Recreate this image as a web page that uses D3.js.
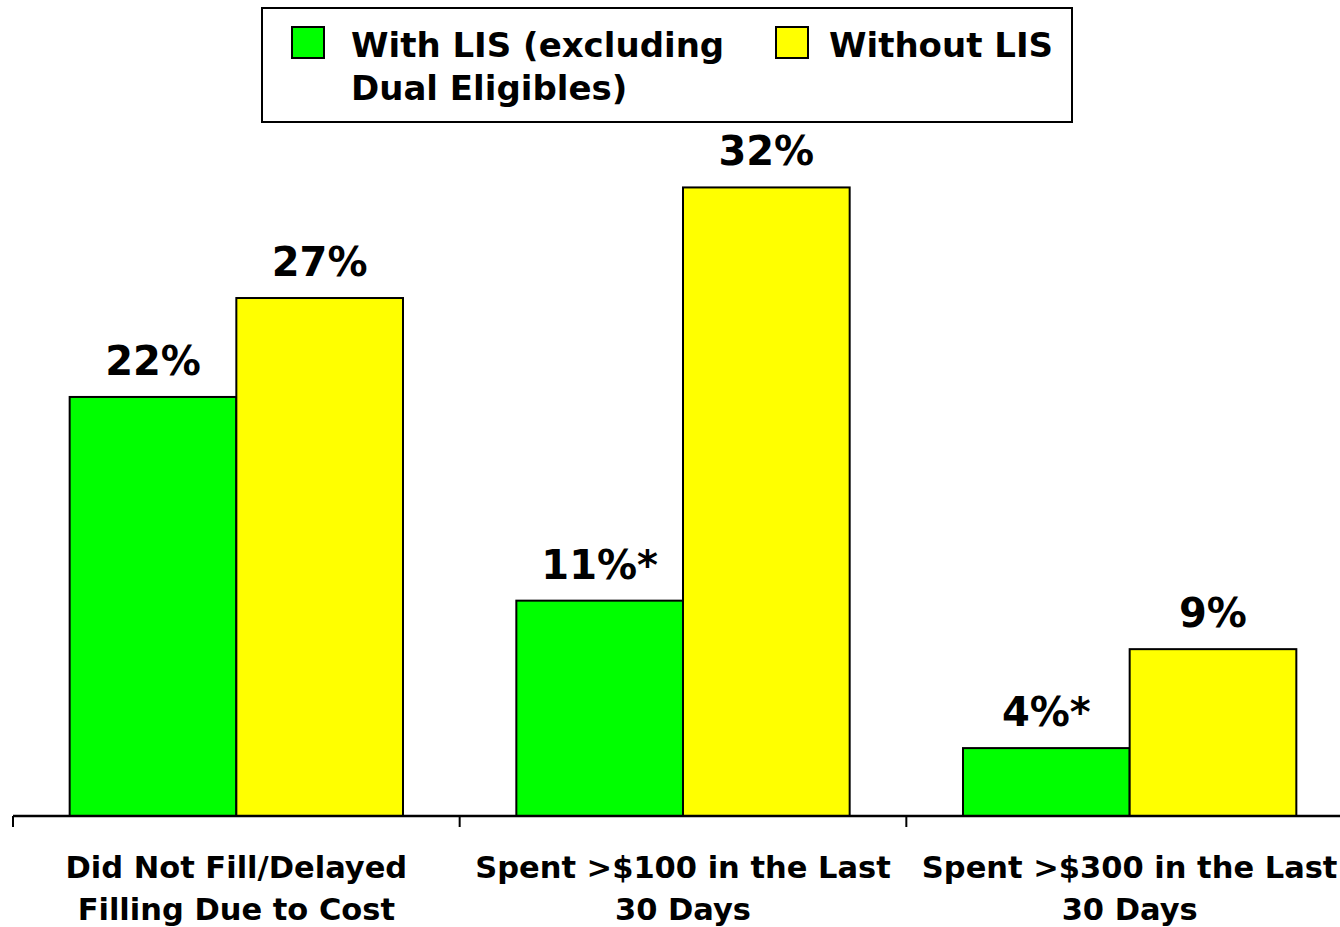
<!DOCTYPE html>
<html>
<head>
<meta charset="utf-8">
<script src="https://cdn.jsdelivr.net/npm/d3@7"></script>
<style>
  html, body { margin: 0; padding: 0; background: #fff; }
  svg { display: block; }
  text { font-family: Verdana, "DejaVu Sans", sans-serif; font-weight: bold; fill: #000; }
</style>
</head>
<body>
<svg id="chart" width="1340" height="927"></svg>
<script>
// ---- data ----
const categories = [
  ["Did Not Fill/Delayed", "Filling Due to Cost"],
  ["Spent >$100 in the Last", "30 Days"],
  ["Spent >$300 in the Last", "30 Days"]
];
const seriesNames = ["With LIS (excluding Dual Eligibles)", "Without LIS"];
const legendLines = [["With LIS (excluding", "Dual Eligibles)"], ["Without LIS"]];
const withLIS = [21.6, 11.1, 3.5];
const withoutLIS = [26.7, 32.4, 8.6];
const withLabels = ["22%", "11%*", "4%*"];
const withoutLabels = ["27%", "32%", "9%"];
const colors = ["#00FF00", "#FFFF00"];

// ---- layout ----
const svg = d3.select("#chart");
const baseY = 816;
const catKeys = categories.map((c, i) => "c" + i);

const x0 = d3.scaleBand().domain(catKeys).range([13, 1353]).paddingInner(0).paddingOuter(0);
const x1 = d3.scaleBand().domain(seriesNames).range([0, x0.bandwidth()]).paddingInner(0).paddingOuter(0.34);
const y = d3.scaleLinear().domain([0, 35]).range([baseY, baseY - 35 * 19.4]);

const rows = catKeys.map((k, i) => ({
  key: k,
  vals: [
    { s: seriesNames[0], v: withLIS[i], label: withLabels[i], c: colors[0] },
    { s: seriesNames[1], v: withoutLIS[i], label: withoutLabels[i], c: colors[1] }
  ]
}));

const groups = svg.selectAll("g.grp").data(rows).join("g")
  .attr("class", "grp")
  .attr("transform", d => `translate(${x0(d.key)},0)`);

groups.selectAll("rect").data(d => d.vals).join("rect")
  .attr("x", d => x1(d.s))
  .attr("y", d => y(d.v))
  .attr("width", x1.bandwidth())
  .attr("height", d => y(0) - y(d.v))
  .attr("fill", d => d.c)
  .attr("stroke", "#000")
  .attr("stroke-width", 2);

groups.selectAll("text.val").data(d => d.vals).join("text")
  .attr("class", "val")
  .attr("x", d => x1(d.s) + x1.bandwidth() / 2)
  .attr("y", d => y(d.v) - 22)
  .attr("text-anchor", "middle")
  .style("font-size", "40px")
  .text(d => d.label);

// axis
const axis = svg.append("g").attr("transform", `translate(0,${baseY})`)
  .call(d3.axisBottom(x0).tickSize(0).tickFormat(""));
axis.select(".domain").attr("stroke", "#000").attr("stroke-width", 2.5)
  .attr("d", `M13,0H1353`);
axis.selectAll(".tick").remove();
// tick marks at band boundaries
const boundaries = catKeys.map(k => x0(k)).concat([x0(catKeys[catKeys.length - 1]) + x0.bandwidth()]);
axis.selectAll("line.bnd").data(boundaries).join("line")
  .attr("class", "bnd")
  .attr("x1", d => d).attr("x2", d => d)
  .attr("y1", 0).attr("y2", 11)
  .attr("stroke", "#000").attr("stroke-width", 2);

// category labels
const catG = svg.append("g");
categories.forEach((lines, i) => {
  const cx = x0(catKeys[i]) + x0.bandwidth() / 2;
  const t = catG.append("text").attr("text-anchor", "middle").style("font-size", "30.5px");
  lines.forEach((ln, j) => {
    t.append("tspan").attr("x", cx).attr("y", 878 + j * 42).text(ln);
  });
});

// legend
const leg = svg.append("g");
leg.append("rect").attr("x", 262).attr("y", 8).attr("width", 810).attr("height", 114)
  .attr("fill", "#fff").attr("stroke", "#000").attr("stroke-width", 2);
const legItems = [
  { x: 292, c: colors[0], lines: legendLines[0], tx: 351 },
  { x: 776, c: colors[1], lines: legendLines[1], tx: 829 }
];
legItems.forEach(it => {
  leg.append("rect").attr("x", it.x).attr("y", 27).attr("width", 32).attr("height", 31)
    .attr("fill", it.c).attr("stroke", "#000").attr("stroke-width", 2);
  const t = leg.append("text").style("font-size", "34px");
  it.lines.forEach((ln, j) => {
    t.append("tspan").attr("x", it.tx).attr("y", 57 + j * 43).text(ln);
  });
});
</script>
</body>
</html>
